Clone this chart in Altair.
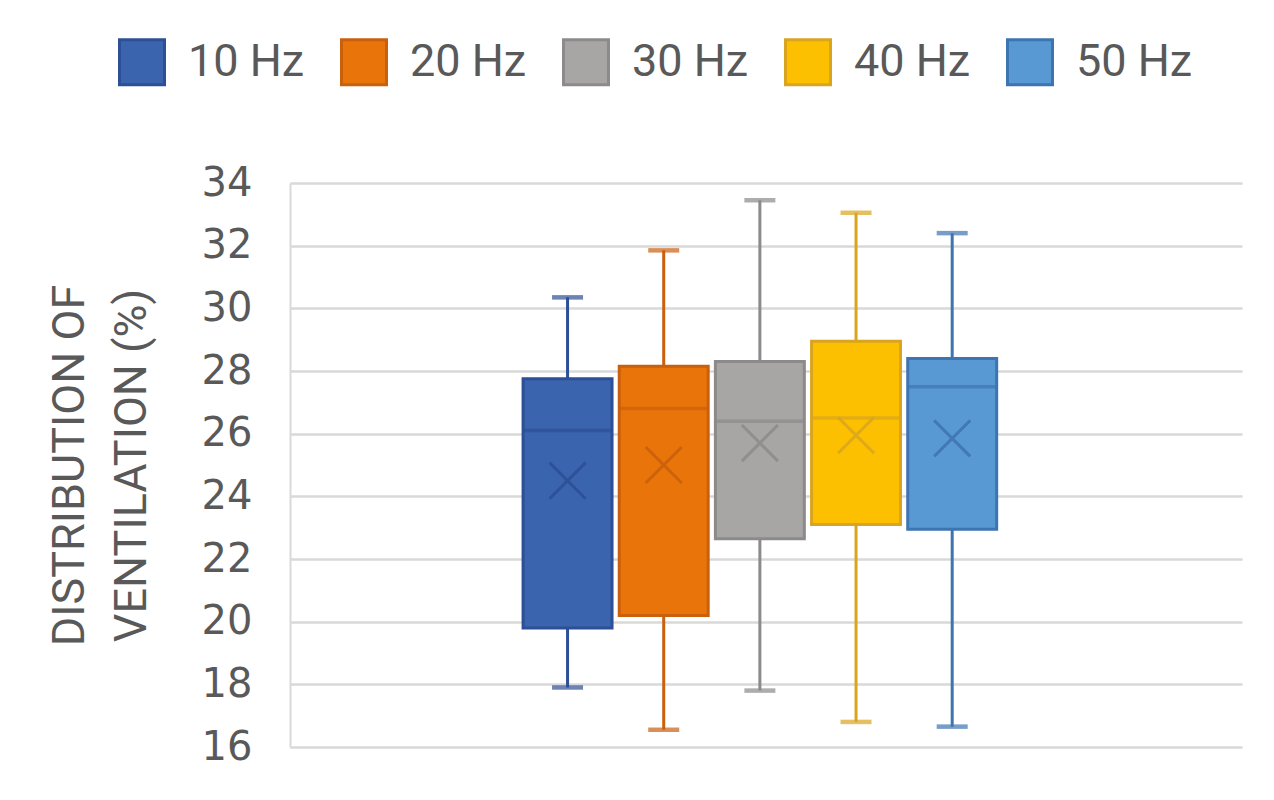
import altair as alt
import pandas as pd

# box plot values (DISTRIBUTION OF VENTILATION, %)
series = ["10 Hz", "20 Hz", "30 Hz", "40 Hz", "50 Hz"]
whisker_low = [17.9, 16.55, 17.8, 16.8, 16.65]
q1 = [19.8, 20.2, 22.65, 23.1, 22.95]
median = [26.1, 26.8, 26.4, 26.5, 27.5]
q3 = [27.75, 28.15, 28.3, 28.95, 28.4]
whisker_high = [30.35, 31.85, 33.45, 33.05, 32.4]
mean = [24.5, 25.0, 25.7, 25.95, 25.85]
y_ticks = [16, 18, 20, 22, 24, 26, 28, 30, 32, 34]

fill_colors = ["#3A64AD", "#E97409", "#A8A5A5", "#FCC000", "#5899D4"]
line_colors = ["#2C4F96", "#C9600E", "#8C8A8A", "#D9A520", "#3D74B2"]

df = pd.DataFrame(
    {
        "series": series,
        "low": whisker_low,
        "q1": q1,
        "median": median,
        "q3": q3,
        "high": whisker_high,
        "mean": mean,
    }
)
df["group"] = "all"

text_grey = "#595959"

x_enc = alt.X(
    "group:N",
    axis=None,
    scale=alt.Scale(paddingOuter=0.49, paddingInner=0, align=0.487),
)
off_enc = alt.XOffset(
    "series:N",
    sort=series,
    scale=alt.Scale(paddingInner=0.075, paddingOuter=0.0375),
)
legend = alt.Legend(
    orient="none",
    legendX=-172,
    legendY=-145,
    direction="horizontal",
    symbolType="square",
    symbolSize=2025,
    symbolStrokeWidth=3,
    labelFont="Roboto",
    labelFontSize=45,
    labelColor=text_grey,
    labelOffset=22,
    columnPadding=30,
)
stroke_enc = alt.Stroke(
    "series:N",
    sort=series,
    scale=alt.Scale(domain=series, range=line_colors),
    title=None,
    legend=legend,
)
fill_enc = alt.Fill(
    "series:N",
    sort=series,
    scale=alt.Scale(domain=series, range=fill_colors),
    title=None,
    legend=legend,
)
y_scale = alt.Scale(domain=[16, 34], nice=False, zero=False)

base = alt.Chart(df)

whiskers = base.mark_rule(strokeWidth=3).encode(
    x=x_enc,
    xOffset=off_enc,
    y=alt.Y(
        "low:Q",
        scale=y_scale,
        axis=alt.Axis(
            values=y_ticks,
            title=["DISTRIBUTION OF", "VENTILATION (%)"],
            titleFont="Roboto",
            titleFontSize=45,
            titleFontWeight="normal",
            titleColor=text_grey,
            titleAngle=270,
            titleAlign="center",
            titleBaseline="alphabetic",
            titleLineHeight=62,
            titleX=-207,
            titleY=282,
            labelFont="DejaVu Sans",
            labelFontSize=40,
            labelColor=text_grey,
            labelPadding=38,
            ticks=False,
            grid=True,
            gridColor="#D9D9D9",
            gridWidth=2.5,
            domainColor="#D9D9D9",
            domainWidth=2,
        ),
    ),
    y2="high:Q",
    stroke=stroke_enc,
)

boxes = base.mark_bar(strokeWidth=3).encode(
    x=x_enc,
    xOffset=off_enc,
    y=alt.Y("q1:Q", scale=y_scale),
    y2="q3:Q",
    fill=fill_enc,
    stroke=stroke_enc,
)

# caps and median: outline-only ticks of near-zero thickness read as lines
cap_low = base.mark_tick(size=27, thickness=0.5, filled=False, strokeWidth=4).encode(
    x=x_enc, xOffset=off_enc, y=alt.Y("low:Q", scale=y_scale), stroke=stroke_enc
)
cap_high = base.mark_tick(size=27, thickness=0.5, filled=False, strokeWidth=4).encode(
    x=x_enc, xOffset=off_enc, y=alt.Y("high:Q", scale=y_scale), stroke=stroke_enc
)
median_line = base.mark_tick(size=86, thickness=0.5, filled=False, strokeWidth=3).encode(
    x=x_enc, xOffset=off_enc, y=alt.Y("median:Q", scale=y_scale), stroke=stroke_enc
)
mean_mark = base.mark_point(
    shape="M-1,-1L1,1M-1,1L1,-1", size=1300, strokeWidth=3, filled=False, opacity=0.85
).encode(
    x=x_enc,
    xOffset=off_enc,
    y=alt.Y("mean:Q", scale=y_scale),
    stroke=stroke_enc,
)

chart = (
    alt.layer(whiskers, boxes, cap_low, cap_high, median_line, mean_mark)
    .properties(
        width=952,
        height=564,
        autosize=alt.AutoSizeParams(type="none"),
        padding={"left": 282, "top": 175, "right": 24, "bottom": 45},
    )
    .configure_view(stroke=None)
)

chart.save("out.html", embed_options={"renderer": "svg", "actions": False})
